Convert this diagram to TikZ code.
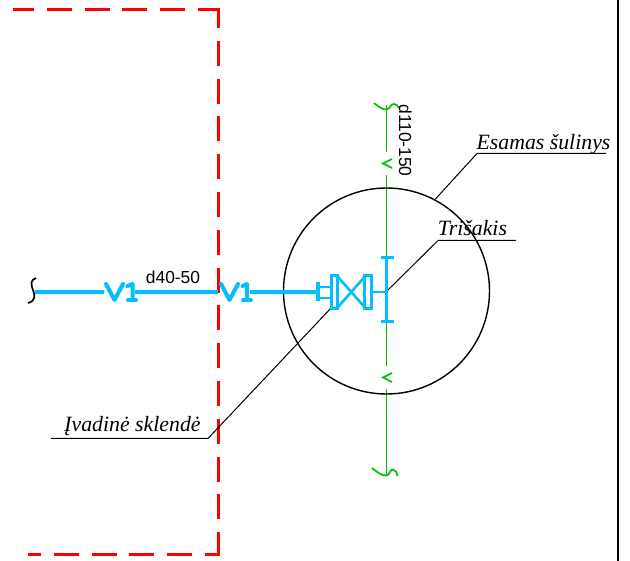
\documentclass[tikz,border=0pt]{standalone}
\usepackage{fontspec}
\setmainfont{Liberation Serif}
\setsansfont{Liberation Sans}
\definecolor{pipeblue}{RGB}{0,191,255}
\definecolor{pipegreen}{RGB}{0,190,0}
\tikzset{
  bound/.style={red,line width=3pt,dash pattern=on 25pt off 12.8pt},
  bluepipe/.style={pipeblue,line width=4pt},
  valve/.style={pipeblue,line width=2.6pt},
  greenpipe/.style={pipegreen,line width=1.7pt},
  leader/.style={black,line width=1pt},
  labeltext/.style={inner sep=0pt,font=\fontsize{21.8}{22}\selectfont\itshape,anchor=base},
  dimtext/.style={inner sep=0pt,font=\sffamily\fontsize{17.4}{18}\selectfont,anchor=base}
}
\begin{document}
\begin{tikzpicture}[x=1pt,y=-1pt,line join=miter]
\useasboundingbox[fill=white] (0,0) rectangle (630,561);
% frame
\draw[black,line width=2.4pt] (618,0) -- (618,561);
% boundary
\draw[bound,dash phase=5pt] (218,9.5) -- (13,9.5);
\draw[bound,dash phase=5pt] (218,8) -- (218,556.5);
\draw[bound,dash phase=12pt] (218,555) -- (28,555);
% green main
\draw[greenpipe] (386.5,105) -- (386.5,152);
\draw[greenpipe] (386.5,175) -- (386.5,258);
\draw[greenpipe] (386.5,322) -- (386.5,366);
\draw[greenpipe] (386.5,389) -- (386.5,476);
\draw[greenpipe] (392,159) -- (383,163.5) -- (392,168);
\draw[greenpipe] (392,373) -- (383,377.5) -- (392,382);
\draw[greenpipe] (374,103) .. controls (379,107) and (383,110) .. (386.5,109.5) .. controls (390,109) and (391,103.5) .. (394,104) .. controls (397,104.5) and (398,106) .. (399,108);
\draw[greenpipe] (372,468) .. controls (377,472) and (382,476) .. (386.5,475.5) .. controls (390,475) and (390,469) .. (393,469.5) .. controls (396,470) and (397,473) .. (397.5,476);
% manhole
\node[draw=black,line width=1.4pt,circle,minimum size=206pt,inner sep=0pt] (well) at (386.5,291) {};
% leaders
\coordinate (l1b) at (477,153.5);
\coordinate (l1c) at (606,153.5);
\coordinate (l1d) at (435,199.5);
\draw[leader] (l1d) -- (l1b) -- (l1c);
\coordinate (l2a) at (387,291);
\coordinate (l2b) at (438,240.5);
\coordinate (l2c) at (516,240.5);
\draw[leader] (l2a) -- (l2b) -- (l2c);
\coordinate (l3a) at (332,307);
\coordinate (l3b) at (208,438.5);
\coordinate (l3c) at (51,438.5);
\draw[leader] (l3a) -- (l3b) -- (l3c);
% blue pipe
\draw[black,line width=1.7pt] (36,278) .. controls (30,280) and (31,285) .. (33,290) .. controls (35,295) and (36,301) .. (28,303);
\coordinate (p0) at (35,292);
\coordinate (p1) at (104,292);
\coordinate (p2) at (135,292);
\coordinate (p3) at (218,292);
\coordinate (p4) at (250,292);
\coordinate (p5) at (318,292);
\draw[bluepipe] (p0) -- (p1);
\draw[bluepipe] (p2) -- (p3);
\draw[bluepipe] (p4) -- (p5);
% V1 marks
\draw[bluepipe,line cap=round,line join=round] (106,284) -- (114.5,300) -- (123,284);
\draw[bluepipe,line cap=round,line join=round] (127.5,286) -- (132.5,284) -- (132.5,300);
\draw[bluepipe,line cap=round] (128,300.5) -- (136,300.5);
\draw[bluepipe,line cap=round,line join=round] (221,284) -- (229.5,300) -- (238,284);
\draw[bluepipe,line cap=round,line join=round] (242.5,286) -- (247,284) -- (247,300);
\draw[bluepipe,line cap=round] (243,300.5) -- (251,300.5);
% valve
\draw[pipeblue,line width=3.4pt] (318,282) -- (318,301);
\draw[valve] (318,287) -- (332,287) (318,298) -- (332,298);
\node[draw=pipeblue,line width=2.6pt,minimum width=6.5pt,minimum height=33pt,inner sep=0pt] (fl) at (334.5,292) {};
\node[draw=pipeblue,line width=2.6pt,minimum width=6.5pt,minimum height=33pt,inner sep=0pt] (fr) at (368,292) {};
\draw[valve] (338,277) -- (364.5,307) (338,307) -- (364.5,277);
\draw[valve] (fr.east) -- (386,292);
% tee
\draw[pipeblue,line width=3pt] (386.5,258) -- (386.5,322);
\draw[pipeblue,line width=3pt] (381,258) -- (393.5,258) (381,322) -- (393.5,322);
% texts
\node[dimtext] (t1) at (173,284) {d40-50};
\node[dimtext,rotate=-90] (t2) at (399,140.5) {d110-150};
\node[labeltext] (t3) at (543.5,150) {Esamas šulinys};
\node[labeltext] (t4) at (472.5,236) {Trišakis};
\node[labeltext] (t5) at (132.5,432) {Įvadinė sklendė};
\end{tikzpicture}
\end{document}
